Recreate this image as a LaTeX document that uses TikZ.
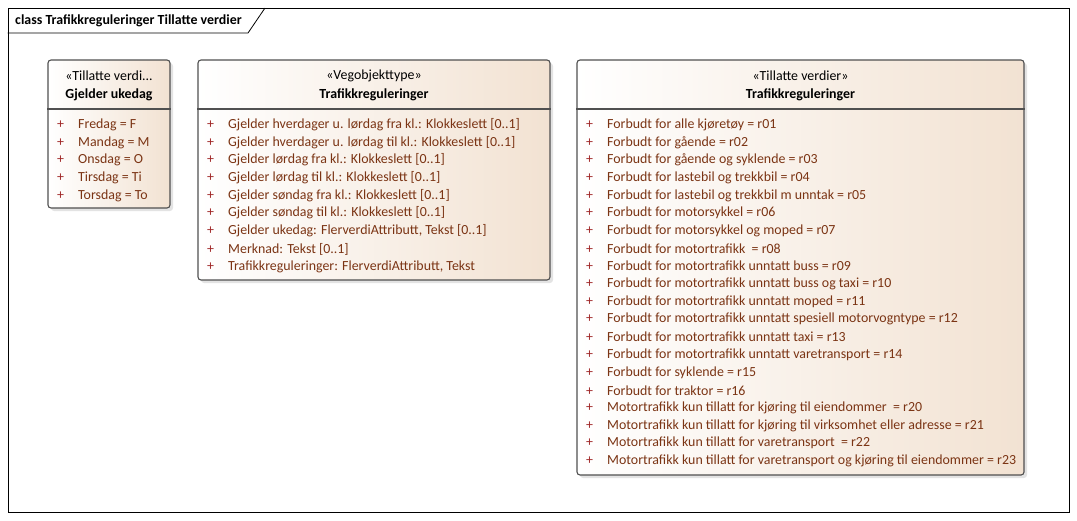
\documentclass[tikz,border=0pt]{standalone}
\usepackage{fontspec}
\setmainfont{Carlito}
\usetikzlibrary{shadows}
\definecolor{kant}{RGB}{80,80,80}
\definecolor{beige}{RGB}{242,226,210}
\definecolor{attrbrun}{RGB}{123,52,20}
\definecolor{plussrod}{RGB}{160,40,40}
\newcommand{\pluss}{\makebox[21pt][l]{\textcolor{plussrod}{+}}}
\begin{document}
\begin{tikzpicture}[x=1pt,y=-1pt]
\tikzstyle{klasse}=[draw=kant, line width=1.1pt, rounded corners=3pt, left color=white, right color=beige, drop shadow={shadow xshift=3pt, shadow yshift=-3pt, fill=black!22}, inner sep=0pt]
\tikzstyle{skille}=[draw=kant, line width=1.1pt]
\tikzstyle{stereo}=[font=\fontsize{13.9}{16}\selectfont, inner sep=0pt, yshift=-1pt]
\tikzstyle{navn}=[font=\fontsize{13.9}{16}\selectfont\bfseries, inner sep=0pt, yshift=-1pt]
\tikzstyle{attr}=[font=\fontsize{13.9}{16}\selectfont, text=attrbrun, anchor=west, inner sep=0pt, yshift=-2pt]
\useasboundingbox (0,0) rectangle (1077,520);
% ramme
\node[draw, line width=0.8pt, minimum width=1061, minimum height=504, inner sep=0pt] (ramme) at (538.5,260) {};
\coordinate (fane) at (248,33);
\draw[line width=0.8pt] (ramme.west |- fane) -- (fane) -- (265,8);
\node[navn, anchor=west] (tittel) at (15,20) {class Trafikkreguleringer Tillatte verdier};

% Gjelder ukedag
\node[klasse, minimum width=122, minimum height=148] (ukedag) at (109,134) {};
\draw[skille] (ukedag.west |- 0,109) -- (ukedag.east |- 0,109);
\node[stereo] (ukedagS) at (109,75) {«Tillatte verdi...};
\node[navn] (ukedagN) at (109,94) {Gjelder ukedag};
\node[attr] (u1) at (57,123) {\pluss Fredag = F};
\node[attr] (u2) at (57,141) {\pluss Mandag = M};
\node[attr] (u3) at (57,158) {\pluss Onsdag = O};
\node[attr] (u4) at (57,176) {\pluss Tirsdag = Ti};
\node[attr] (u5) at (57,194) {\pluss Torsdag = To};

% Vegobjekttype
\node[klasse, minimum width=352, minimum height=220] (vegobj) at (374,170) {};
\draw[skille] (vegobj.west |- 0,109) -- (vegobj.east |- 0,109);
\node[stereo] (vegobjS) at (374,75) {«Vegobjekttype»};
\node[navn] (vegobjN) at (374,94) {Trafikkreguleringer};
\node[attr] (v1) at (207,123) {\pluss Gjelder hverdager u. lørdag fra kl.: Klokkeslett [0..1]};
\node[attr] (v2) at (207,141) {\pluss Gjelder hverdager u. lørdag til kl.: Klokkeslett [0..1]};
\node[attr] (v3) at (207,158) {\pluss Gjelder lørdag fra kl.: Klokkeslett [0..1]};
\node[attr] (v4) at (207,176) {\pluss Gjelder lørdag til kl.: Klokkeslett [0..1]};
\node[attr] (v5) at (207,194) {\pluss Gjelder søndag fra kl.: Klokkeslett [0..1]};
\node[attr] (v6) at (207,211) {\pluss Gjelder søndag til kl.: Klokkeslett [0..1]};
\node[attr] (v7) at (207,229) {\pluss Gjelder ukedag: FlerverdiAttributt, Tekst [0..1]};
\node[attr] (v8) at (207,247) {\pluss Merknad: Tekst [0..1]};
\node[attr] (v9) at (207,265) {\pluss Trafikkreguleringer: FlerverdiAttributt, Tekst};

% Tillatte verdier
\node[klasse, minimum width=447, minimum height=415] (verdier) at (800.5,267.5) {};
\draw[skille] (verdier.west |- 0,109) -- (verdier.east |- 0,109);
\node[stereo] (verdierS) at (800.5,75) {«Tillatte verdier»};
\node[navn] (verdierN) at (800.5,94) {Trafikkreguleringer};
\node[attr] (r01) at (586,123) {\pluss Forbudt for alle kjøretøy = r01};
\node[attr] (r02) at (586,141) {\pluss Forbudt for gående = r02};
\node[attr] (r03) at (586,158) {\pluss Forbudt for gående og syklende = r03};
\node[attr] (r04) at (586,176) {\pluss Forbudt for lastebil og trekkbil = r04};
\node[attr] (r05) at (586,194) {\pluss Forbudt for lastebil og trekkbil m unntak = r05};
\node[attr] (r06) at (586,211) {\pluss Forbudt for motorsykkel = r06};
\node[attr] (r07) at (586,229) {\pluss Forbudt for motorsykkel og moped = r07};
\node[attr] (r08) at (586,247) {\pluss Forbudt for motortrafikk\ \ = r08};
\node[attr] (r09) at (586,264) {\pluss Forbudt for motortrafikk unntatt buss = r09};
\node[attr] (r10) at (586,282) {\pluss Forbudt for motortrafikk unntatt buss og taxi = r10};
\node[attr] (r11) at (586,300) {\pluss Forbudt for motortrafikk unntatt moped = r11};
\node[attr] (r12) at (586,317) {\pluss Forbudt for motortrafikk unntatt spesiell motorvogntype = r12};
\node[attr] (r13) at (586,335) {\pluss Forbudt for motortrafikk unntatt taxi = r13};
\node[attr] (r14) at (586,353) {\pluss Forbudt for motortrafikk unntatt varetransport = r14};
\node[attr] (r15) at (586,371) {\pluss Forbudt for syklende = r15};
\node[attr] (r16) at (586,389) {\pluss Forbudt for traktor = r16};
\node[attr] (r20) at (586,406) {\pluss Motortrafikk kun tillatt for kjøring til eiendommer\ \ = r20};
\node[attr] (r21) at (586,424) {\pluss Motortrafikk kun tillatt for kjøring til virksomhet eller adresse = r21};
\node[attr] (r22) at (586,441) {\pluss Motortrafikk kun tillatt for varetransport\ \ = r22};
\node[attr] (r23) at (586,459) {\pluss Motortrafikk kun tillatt for varetransport og kjøring til eiendommer = r23};
\end{tikzpicture}
\end{document}
